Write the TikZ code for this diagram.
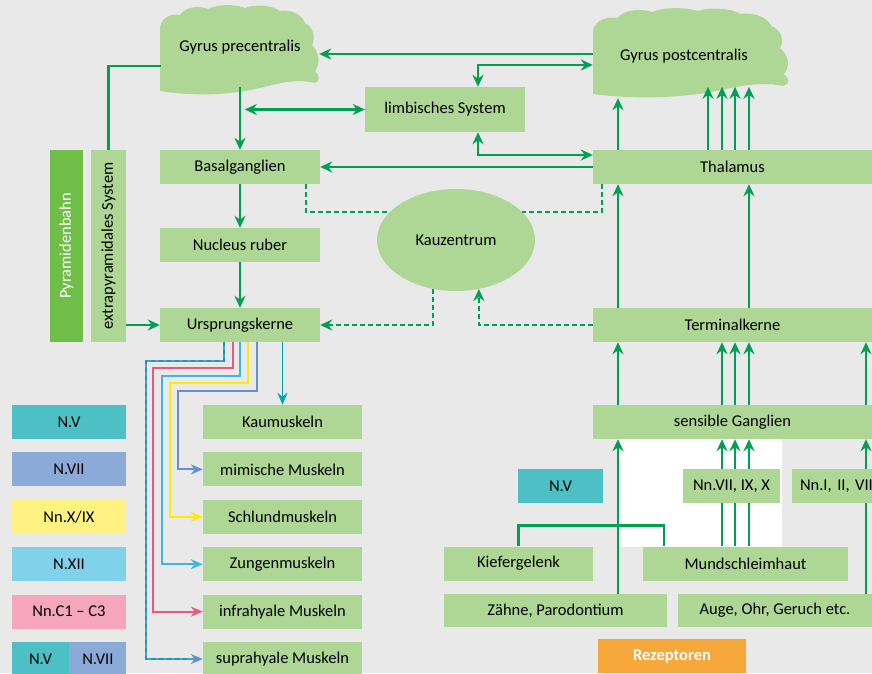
\documentclass[tikz,border=0pt]{standalone}
\usepackage{fontspec}
\setmainfont{Carlito}
\usetikzlibrary{positioning,arrows.meta,shapes.geometric}

\definecolor{bggray}{RGB}{233,233,233}
\definecolor{boxgreen}{RGB}{174,215,150}
\definecolor{darkgreen}{RGB}{110,190,72}
\definecolor{linegreen}{RGB}{0,160,82}
\definecolor{nvteal}{RGB}{76,192,196}
\definecolor{nviiblue}{RGB}{140,170,216}
\definecolor{nxyellow}{RGB}{255,242,130}
\definecolor{nxiiblue}{RGB}{128,210,234}
\definecolor{ncpink}{RGB}{245,166,188}
\definecolor{rezorange}{RGB}{247,168,58}
\definecolor{tealline}{RGB}{0,165,180}
\definecolor{blueline}{RGB}{100,145,205}
\definecolor{yellowline}{RGB}{255,235,0}
\definecolor{cyanline}{RGB}{60,182,226}
\definecolor{pinkline}{RGB}{232,88,130}

\tikzset{
>={Stealth[length=12pt,width=11pt]},
every node/.style={font=\fontsize{16.5}{19}\selectfont},
box/.style={fill=boxgreen, inner sep=0pt, minimum height=34pt},
tag/.style={box, minimum width=114pt},
muskel/.style={box, minimum width=159pt},
flow/.style={draw=linegreen, line width=2.4pt},
kau dash/.style={flow, dash pattern=on 5pt off 3pt},
nerve/.style={line width=1.9pt, -{Stealth[length=12pt,width=10pt]}},
gyrus/.pic={
  \fill[boxgreen] (0,86) -- (0,22)
    .. controls (2,12) and (12,8) .. (20,10)
    .. controls (25,2) and (38,0) .. (48,4)
    .. controls (58,-1) and (75,-1) .. (85,3)
    .. controls (95,-1) and (112,0) .. (120,6)
    .. controls (132,4) and (142,10) .. (145,18)
    .. controls (153,22) and (156,32) .. (152,40)
    .. controls (160,48) and (160,60) .. (155,66)
    .. controls (160,70) and (160,76) .. (155,78)
    .. controls (130,72) and (110,82) .. (85,86)
    .. controls (55,91) and (25,90) .. (0,86) -- cycle;
},
}

\begin{document}
\begin{tikzpicture}[x=1pt, y=-1pt]
\useasboundingbox (0,0) rectangle (872,673);
\clip (0,0) rectangle (872,673);
\fill[bggray] (0,0) rectangle (872,673);
\fill[white] (618,439) rectangle (782,547);

% Rinde
\pic at (160,5) {gyrus};
\pic[xscale=1.23] at (593,8) {gyrus};
\node[minimum width=158pt, minimum height=80pt, inner sep=0pt] (gpre) at (240,47) {Gyrus precentralis};
\node[minimum width=182pt, minimum height=84pt, inner sep=0pt] (gpost) at (684,56) {Gyrus postcentralis};

% motorisch
\node[box, minimum width=160pt, minimum height=45pt] (limb) at (445,109.5) {limbisches System};
\node[box, minimum width=160pt] (basal) at (240,167) {Basalganglien};
\node[box, minimum width=160pt] (ruber) at (240,245) {Nucleus ruber};
\node[box, minimum width=160pt] (urspr) at (240,325) {Ursprungskerne};
\node[fill=darkgreen, text=white, inner sep=0pt, minimum width=33pt, minimum height=192pt] (pyr) at (66.5,246) {\rotatebox{90}{Pyramidenbahn}};
\node[box, minimum width=35pt, minimum height=192pt] (extrap) at (108.5,246) {\rotatebox{90}{extrapyramidales System}};
\node[ellipse, fill=boxgreen, inner sep=0pt, minimum width=158pt, minimum height=102pt] (kau) at (456,240) {Kauzentrum};

% sensibel
\node[box, minimum width=279pt] (thal) at (732.5,167) {Thalamus};
\node[box, minimum width=279pt] (term) at (732.5,325) {Terminalkerne};
\node[box, minimum width=279pt] (sg) at (732.5,422) {sensible Ganglien};
\node[box, fill=nvteal, minimum width=85pt] (nvr) at (560.5,486) {N.V};
\node[box, minimum width=97pt] (nnvii) at (731.5,486) {Nn.VII, IX, X};
\node[box, minimum width=96pt, text width=80pt, align=left] (nni) at (840,486) {Nn.I, II, VII};
\node[box, minimum width=149pt] (kief) at (518.5,563.5) {Kiefergelenk};
\node[box, minimum width=205pt] (mund) at (745.5,563.5) {Mundschleimhaut};
\node[box, minimum width=223pt, minimum height=33pt] (zahn) at (555.5,610.5) {Zähne, Parodontium};
\node[box, minimum width=194pt, minimum height=33pt] (auge) at (775,610.5) {Auge, Ohr, Geruch etc.};
\node[fill=rezorange, text=white, inner sep=0pt, minimum width=148pt, minimum height=34pt, font=\fontsize{16.5}{19}\selectfont\bfseries] (rez) at (672,656) {Rezeptoren};

% Legende
\node[tag, fill=nvteal] (lv) at (69,422) {N.V};
\node[tag, fill=nviiblue, below=13pt of lv] (lvii) {N.VII};
\node[tag, fill=nxyellow, below=13pt of lvii] (lx) {Nn.X/IX};
\node[tag, fill=nxiiblue, below=13pt of lx] (lxii) {N.XII};
\node[tag, fill=ncpink, below=13pt of lxii] (lc) {Nn.C1 -- C3};
\node[box, fill=nvteal, minimum width=57pt, below right=13pt and 0pt of lc.south west] (lvb) {N.V};
\node[box, fill=nviiblue, minimum width=57pt, right=0pt of lvb] (lviib) {N.VII};

% Muskeln
\node[muskel] (kaum) at (282.5,422) {Kaumuskeln};
\node[muskel, below=13pt of kaum] (mim) {mimische Muskeln};
\node[muskel, below=13pt of mim] (schl) {Schlundmuskeln};
\node[muskel, below=13pt of schl] (zung) {Zungenmuskeln};
\node[muskel, below=13pt of zung] (infra) {infrahyale Muskeln};
\node[muskel, below=13pt of infra] (supra) {suprahyale Muskeln};

% Bahnen motorisch
\draw[flow] ([yshift=-19pt]gpre.west) -| (extrap.north);
\draw[flow,->] (extrap.east |- urspr.west) -- (urspr.west);
\draw[flow,->] (gpre.south) -- (basal.north);
\draw[flow,<->] (limb.west) -- ++(-120,0);
\draw[flow,->] (basal.south) -- (ruber.north);
\draw[flow,->] (ruber.south) -- (urspr.north);

% Bahnen sensibel
\draw[flow,->] ([yshift=2pt]gpost.west) -- ([yshift=2pt]gpost.west -| gpre.east);
\draw[flow,<->] ([xshift=33pt]limb.north) |- ([yshift=-9pt]gpost.west);
\draw[flow,<->] ([xshift=33pt]limb.south) |- ([yshift=12pt]thal.west);
\draw[flow,->] (thal.west) -- (basal.east);
\draw[flow,->] ([xshift=-114.5pt]thal.north) -- ([xshift=-66pt]gpost.south);
\foreach \dx in {-24.5,-10.5,2.5,16.5}
  \draw[flow,->] ([xshift=\dx pt]thal.north) -- ++(0,-63);
\foreach \dx in {-114.5,16.5}
  \draw[flow,->] ([xshift=\dx pt]term.north) -- ([xshift=\dx pt]thal.south);
\foreach \dx in {-114.5,-10.5,2.5,16.5,133.5}
  \draw[flow,->] ([xshift=\dx pt]sg.north) -- ([xshift=\dx pt]term.south);

% Kauzentrum
\draw[kau dash] ([xshift=66pt]basal.south) |- (kau.157);
\draw[kau dash] ([xshift=-130.5pt]thal.south) |- (kau.23);
\draw[kau dash,->] (kau.245) |- (urspr.east);
\draw[kau dash,->] (term.west) -| (kau.295);

% Rezeptoren
\draw[flow,->] ([xshift=62.5pt]zahn.north) -- ([xshift=-114.5pt]sg.south);
\draw[flow] (kief.north) -- ++(0,-21) -| ([xshift=-81.5pt]mund.north);
\foreach \a/\b/\c in {-9.5/-23.5/-10.5, 3.5/-10.5/2.5, 17.5/3.5/16.5} {
  \draw[flow] ([xshift=\b pt]mund.north) -- ([xshift=\a pt]nnvii.south);
  \draw[flow,->] ([xshift=\a pt]nnvii.north) -- ([xshift=\c pt]sg.south);
}
\draw[flow] ([xshift=91pt]auge.north) -- ([xshift=26pt]nni.south);
\draw[flow,->] ([xshift=26pt]nni.north) -- ([xshift=133.5pt]sg.south);

% Hirnnerven
\draw[nerve,tealline] ([xshift=42.5pt]urspr.south) -- (kaum.north);
\draw[nerve,blueline] ([xshift=17pt]urspr.south) -- ++(0,49) -| ([xshift=-25pt]mim.west) -- (mim.west);
\draw[nerve,yellowline] ([xshift=8pt]urspr.south) -- ++(0,41) -| ([xshift=-33pt]schl.west) -- (schl.west);
\draw[nerve,cyanline] (urspr.south) -- ++(0,34) -| ([xshift=-41pt]zung.west) -- (zung.west);
\draw[nerve,pinkline] ([xshift=-7pt]urspr.south) -- ++(0,26) -| ([xshift=-50pt]infra.west) -- (infra.west);
\draw[nerve,blueline] ([xshift=-16pt]urspr.south) -- ++(0,19) -| ([xshift=-57pt]supra.west) -- (supra.west);
\draw[line width=1.9pt,tealline,dash pattern=on 4pt off 4pt] ([xshift=-16pt]urspr.south) -- ++(0,19) -| ([xshift=-57pt]supra.west) -- ([xshift=-13pt]supra.west);
\end{tikzpicture}
\end{document}
